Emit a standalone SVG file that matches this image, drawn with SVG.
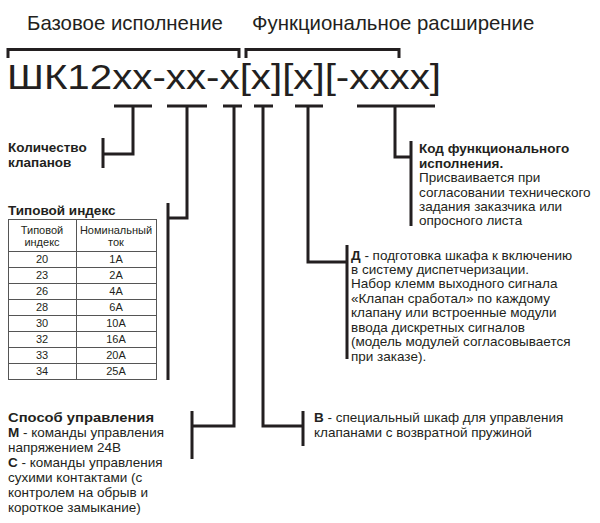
<svg xmlns="http://www.w3.org/2000/svg" width="600" height="523" viewBox="0 0 600 523">
<style>
text{font-family:"Liberation Sans",Arial,sans-serif;fill:#231f20}
.hd{font-size:20.4px}
.code{font-size:35px}
.t{font-size:13.5px}
.b{font-weight:bold}
.tb{font-size:11px;text-anchor:middle}
.ln{fill:none;stroke:#231f20;stroke-width:3}
.grid{fill:none;stroke:#555;stroke-width:1}
</style>
<rect width="600" height="523" fill="#fff"/>
<g id="headers">
<text class="hd" x="27" y="30">Базовое исполнение</text>
<text class="hd" x="252" y="30">Функциональное расширение</text>
<path class="ln" d="M8,58V49.5H239V58M246,58V49.5H399V58"/>
</g>
<g id="code">
<text class="code" x="7" y="89" textLength="434" lengthAdjust="spacingAndGlyphs">ШК12xx-xx-x[x][x][-xxxx]</text>
</g>
<g id="connectors">
<path class="ln" d="M114,106H152M133,106V154H103M103,138V168"/>
<path class="ln" d="M167,106H207M187,106V218H168M168,203V380"/>
<path class="ln" d="M223,106H242M234,106V426H192M192,411V459"/>
<path class="ln" d="M254,106H273M263,106V426H303M303,411V446"/>
<path class="ln" d="M295,106H323M308,106V262H347M347,245V359"/>
<path class="ln" d="M357,106H435M395,106V157H411M411,141V226"/>
</g>
<g id="node-count">
<text class="t b" x="8" y="152">Количество</text>
<text class="t b" x="8" y="167">клапанов</text>
</g>
<g id="node-type">
<text class="t b" x="8" y="215">Типовой индекс</text>
<rect class="grid" x="8.5" y="219.5" width="148" height="160"/>
<path class="grid" d="M76.5,219.5V379.5M8.5,251.5H156.5M8.5,267.5H156.5M8.5,283.5H156.5M8.5,299.5H156.5M8.5,315.5H156.5M8.5,331.5H156.5M8.5,347.5H156.5M8.5,363.5H156.5"/>
<text class="tb" x="42" y="234">Типовой</text>
<text class="tb" x="42" y="246">индекс</text>
<text class="tb" x="116" y="234">Номинальный</text>
<text class="tb" x="116" y="246">ток</text>
<text class="tb" x="42" y="263">20</text><text class="tb" x="116" y="263">1А</text>
<text class="tb" x="42" y="279">23</text><text class="tb" x="116" y="279">2А</text>
<text class="tb" x="42" y="295">26</text><text class="tb" x="116" y="295">4А</text>
<text class="tb" x="42" y="311">28</text><text class="tb" x="116" y="311">6А</text>
<text class="tb" x="42" y="327">30</text><text class="tb" x="116" y="327">10А</text>
<text class="tb" x="42" y="343">32</text><text class="tb" x="116" y="343">16А</text>
<text class="tb" x="42" y="359">33</text><text class="tb" x="116" y="359">20А</text>
<text class="tb" x="42" y="375">34</text><text class="tb" x="116" y="375">25А</text>
</g>
<g id="node-control">
<text class="t b" x="8" y="422" textLength="146" lengthAdjust="spacingAndGlyphs">Способ управления</text>
<text class="t" x="8" y="437"><tspan class="b">М</tspan> - команды управления</text>
<text class="t" x="8" y="452">напряжением 24В</text>
<text class="t" x="8" y="467"><tspan class="b">С</tspan> - команды управления</text>
<text class="t" x="8" y="482">сухими контактами (с</text>
<text class="t" x="8" y="497">контролем на обрыв и</text>
<text class="t" x="8" y="512">короткое замыкание)</text>
</g>
<g id="node-v">
<text class="t" x="314" y="422"><tspan class="b">В</tspan> - специальный шкаф для управления</text>
<text class="t" x="314" y="437">клапанами с возвратной пружиной</text>
</g>
<g id="node-d">
<text class="t" x="351" y="260"><tspan class="b">Д</tspan> - подготовка шкафа к включению</text>
<text class="t" x="351" y="274">в систему диспетчеризации.</text>
<text class="t" x="351" y="288">Набор клемм выходного сигнала</text>
<text class="t" x="351" y="303">«Клапан сработал» по каждому</text>
<text class="t" x="351" y="317">клапану или встроенные модули</text>
<text class="t" x="351" y="332">ввода дискретных сигналов</text>
<text class="t" x="351" y="346">(модель модулей согласовывается</text>
<text class="t" x="351" y="361">при заказе).</text>
</g>
<g id="node-func">
<text class="t b" x="419" y="153">Код функционального</text>
<text class="t b" x="419" y="168">исполнения.</text>
<text class="t" x="419" y="182">Присваивается при</text>
<text class="t" x="419" y="197">согласовании технического</text>
<text class="t" x="419" y="211">задания заказчика или</text>
<text class="t" x="419" y="225">опросного листа</text>
</g>
</svg>
